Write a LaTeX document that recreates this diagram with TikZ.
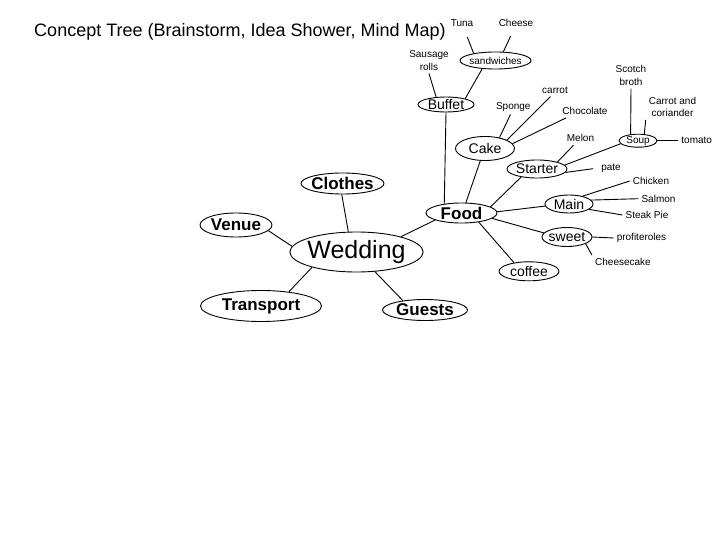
\documentclass[tikz,border=0pt]{standalone}
\usepackage{fontspec}
\setmainfont{Liberation Sans}
\usetikzlibrary{shapes.geometric}

\begin{document}
\begin{tikzpicture}[
  x=1pt, y=-1pt,
  bubble/.style={ellipse, draw, line width=0.9pt, inner sep=-2pt},
  hub/.style={bubble, font=\fontsize{25}{28}\selectfont},
  topic/.style={bubble, font=\fontsize{17}{20}\selectfont\bfseries},
  course/.style={bubble, font=\fontsize{14}{16}\selectfont},
  minor/.style={bubble, font=\fontsize{10}{12}\selectfont},
  leaf/.style={inner sep=3pt, align=center, font=\fontsize{10}{12.5}\selectfont},
  link/.style={line width=0.9pt}
]
\useasboundingbox (0,0) rectangle (720,540);
\node[font=\fontsize{18}{21}\selectfont] (title) at (240,32) {Concept Tree (Brainstorm, Idea Shower, Mind Map)};

\node[hub, minimum width=133, minimum height=40]    (wed)       at (356.5,252) {Wedding};
\node[topic, minimum width=83, minimum height=21]   (clothes)   at (342.5,183.5) {Clothes};
\node[topic, minimum width=72, minimum height=24]   (venue)     at (236,225)   {Venue};
\node[topic, minimum width=121, minimum height=31]  (transport) at (261,306)   {Transport};
\node[topic, minimum width=85, minimum height=21]   (guests)    at (425,310)   {Guests};
\node[topic, minimum width=71, minimum height=20]   (food)      at (461.5,213) {Food};

\node[course, minimum width=56, minimum height=15]  (buffet)    at (446,104.5) {Buffet};
\node[minor, minimum width=71, minimum height=17]   (sand)      at (495.5,60.5) {sandwiches};
\node[course, minimum width=59, minimum height=24]  (cake)      at (485,148.5) {Cake};
\node[course, minimum width=60, minimum height=18]  (starter)   at (537,169)   {Starter};
\node[course, minimum width=48, minimum height=18]  (main)      at (569,204)   {Main};
\node[course, minimum width=50, minimum height=19]  (sweet)     at (567,237)   {sweet};
\node[course, minimum width=60, minimum height=19]  (coffee)    at (529,271.3) {coffee};
\node[minor, minimum width=38, minimum height=13]   (soup)      at (638,140.7) {Soup};

\node[leaf] (tuna)       at (462,23)      {Tuna};
\node[leaf] (cheese)     at (516,23)      {Cheese};
\node[leaf] (sausage)    at (429,60.5)    {Sausage\\rolls};
\node[leaf] (scotch)     at (631,75.5)    {Scotch\\broth};
\node[leaf] (carrot)     at (555,90)      {carrot};
\node[leaf] (carcor)     at (672.5,106.7) {Carrot and\\coriander};
\node[leaf] (sponge)     at (513.3,106.7) {Sponge};
\node[leaf] (choc)       at (585,111)     {Chocolate};
\node[leaf] (melon)      at (580.5,138.3) {Melon};
\node[leaf] (tomato)     at (696.7,140.7) {tomato};
\node[leaf] (pate)       at (611,168)     {pate};
\node[leaf] (chicken)    at (651,181)     {Chicken};
\node[leaf] (salmon)     at (658.5,198.7) {Salmon};
\node[leaf] (steak)      at (647,215)     {Steak Pie};
\node[leaf] (profit)     at (641.5,238)   {profiteroles};
\node[leaf] (cheesecake) at (623,262)     {Cheesecake};

\draw[link] (clothes.266) -- (wed.112);
\draw[link] (venue.350) -- (wed.175);
\draw[link] (food.195) -- (wed.19);
\draw[link] (transport.27) -- (wed.199);
\draw[link] (guests.157) -- (wed.313);

\draw[link] (buffet.south) -- (food.152);
\draw[link] (cake.249) -- (food.67);
\draw[link] (food.12) -- (starter.207);
\draw[link] (food.2) -- (main.185);
\draw[link] (food.350) -- (sweet.170);
\draw[link] (food.332) -- (coffee.150);

\draw[link] (sand.212) -- (buffet.17);
\draw[link] (buffet.143) -- (sausage.south);
\draw[link, shorten >=8pt] (sand.162) -- (tuna.290);
\draw[link, shorten >=7pt] (sand.48) -- (cheese.250);

\draw[link] (cake.37) -- (sponge.250);
\draw[link] (cake.21) -- (carrot.235);
\draw[link] (cake.10) -- (choc.200);

\draw[link] (starter.19) -- (melon.225);
\draw[link] (starter.8) -- (soup.190);
\draw[link, shorten >=5pt] (starter.353) -- (pate.west);
\draw[link] (soup.139) -- (scotch.south);
\draw[link] (soup.46) -- (carcor.south west);
\draw[link] (soup.east) -- (tomato.west);

\draw[link] (main.30) -- (chicken.west);
\draw[link] (main.10) -- (salmon.west);
\draw[link] (main.345) -- (steak.west);

\draw[link] (sweet.east) -- (profit.west);
\draw[link] (sweet.340) -- (cheesecake.north west);
\end{tikzpicture}
\end{document}
